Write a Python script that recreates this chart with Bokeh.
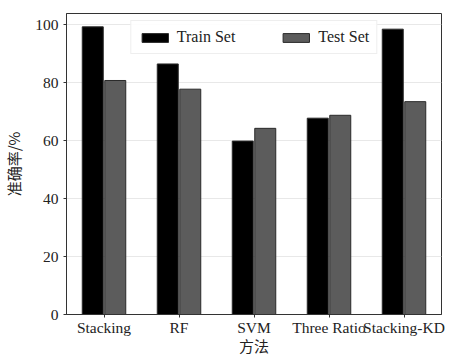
from bokeh.plotting import figure
from bokeh.models import ColumnDataSource, FactorRange, Range1d, FixedTicker, Legend, LegendItem
from bokeh.transform import dodge
from bokeh.embed import file_html
from bokeh.resources import INLINE

methods = ["Stacking", "RF", "SVM", "Three Ratio", "Stacking-KD"]
train_set = [99.2, 86.4, 59.8, 67.7, 98.4]
test_set = [80.7, 77.7, 64.2, 68.7, 73.4]
y_ticks = [0, 20, 40, 60, 80, 100]

source = ColumnDataSource(data=dict(method=methods, train=train_set, test=test_set))

p = figure(x_range=FactorRange(*methods, range_padding=0), y_range=Range1d(0, 103.8),
           width=461, height=358, output_backend="svg", toolbar_location=None,
           min_border_left=61, min_border_right=20, min_border_top=13, min_border_bottom=44)

r_train = p.vbar(x=dodge("method", -0.15, range=p.x_range), top="train", width=0.28, source=source,
                 fill_color="#000000", line_color="#2a2a2a", line_width=1)
r_test = p.vbar(x=dodge("method", 0.15, range=p.x_range), top="test", width=0.28, source=source,
                fill_color="#5c5c5c", line_color="#2a2a2a", line_width=1)

serif = "Liberation Serif"
cjk = "Noto Sans CJK SC"

p.outline_line_color = "#333333"
p.outline_line_width = 1

p.xgrid.grid_line_color = None
p.ygrid.grid_line_color = "#e8e8e8"
p.ygrid.grid_line_width = 1
p.ygrid.ticker = FixedTicker(ticks=y_ticks)

for ax in (p.xaxis, p.yaxis):
    ax.axis_line_color = "#333333"
    ax.major_tick_line_color = "#333333"
    ax.major_tick_in = 0
    ax.major_tick_out = 3
    ax.minor_tick_line_color = None
    ax.major_label_text_font = serif
    ax.major_label_text_font_size = "15.5px"
    ax.major_label_text_color = "#222222"
    ax.axis_label_text_font = cjk
    ax.axis_label_text_font_style = "normal"
    ax.axis_label_text_font_size = "15px"
    ax.axis_label_text_color = "#222222"

p.yaxis.ticker = FixedTicker(ticks=y_ticks)
p.yaxis.axis_label = "准确率/%"
p.yaxis.axis_label_standoff = 8
p.yaxis.major_label_standoff = 5
p.xaxis.axis_label = "方法"
p.xaxis.axis_label_standoff = -4
p.xaxis.major_label_standoff = 1

legend = Legend(items=[LegendItem(label="Train Set", renderers=[r_train]),
                       LegendItem(label="Test Set", renderers=[r_test])],
                orientation="horizontal", location="top_center")
legend.label_text_font = serif
legend.label_text_font_size = "16px"
legend.label_text_color = "#222222"
legend.glyph_width = 33
legend.glyph_height = 11
legend.label_standoff = 6
legend.spacing = 44
legend.padding = 7
legend.margin = 7
legend.border_line_color = "#dddddd"
legend.border_line_width = 1
legend.background_fill_alpha = 0.9
p.add_layout(legend, "center")

open("out.html", "w").write(file_html(p, INLINE))
